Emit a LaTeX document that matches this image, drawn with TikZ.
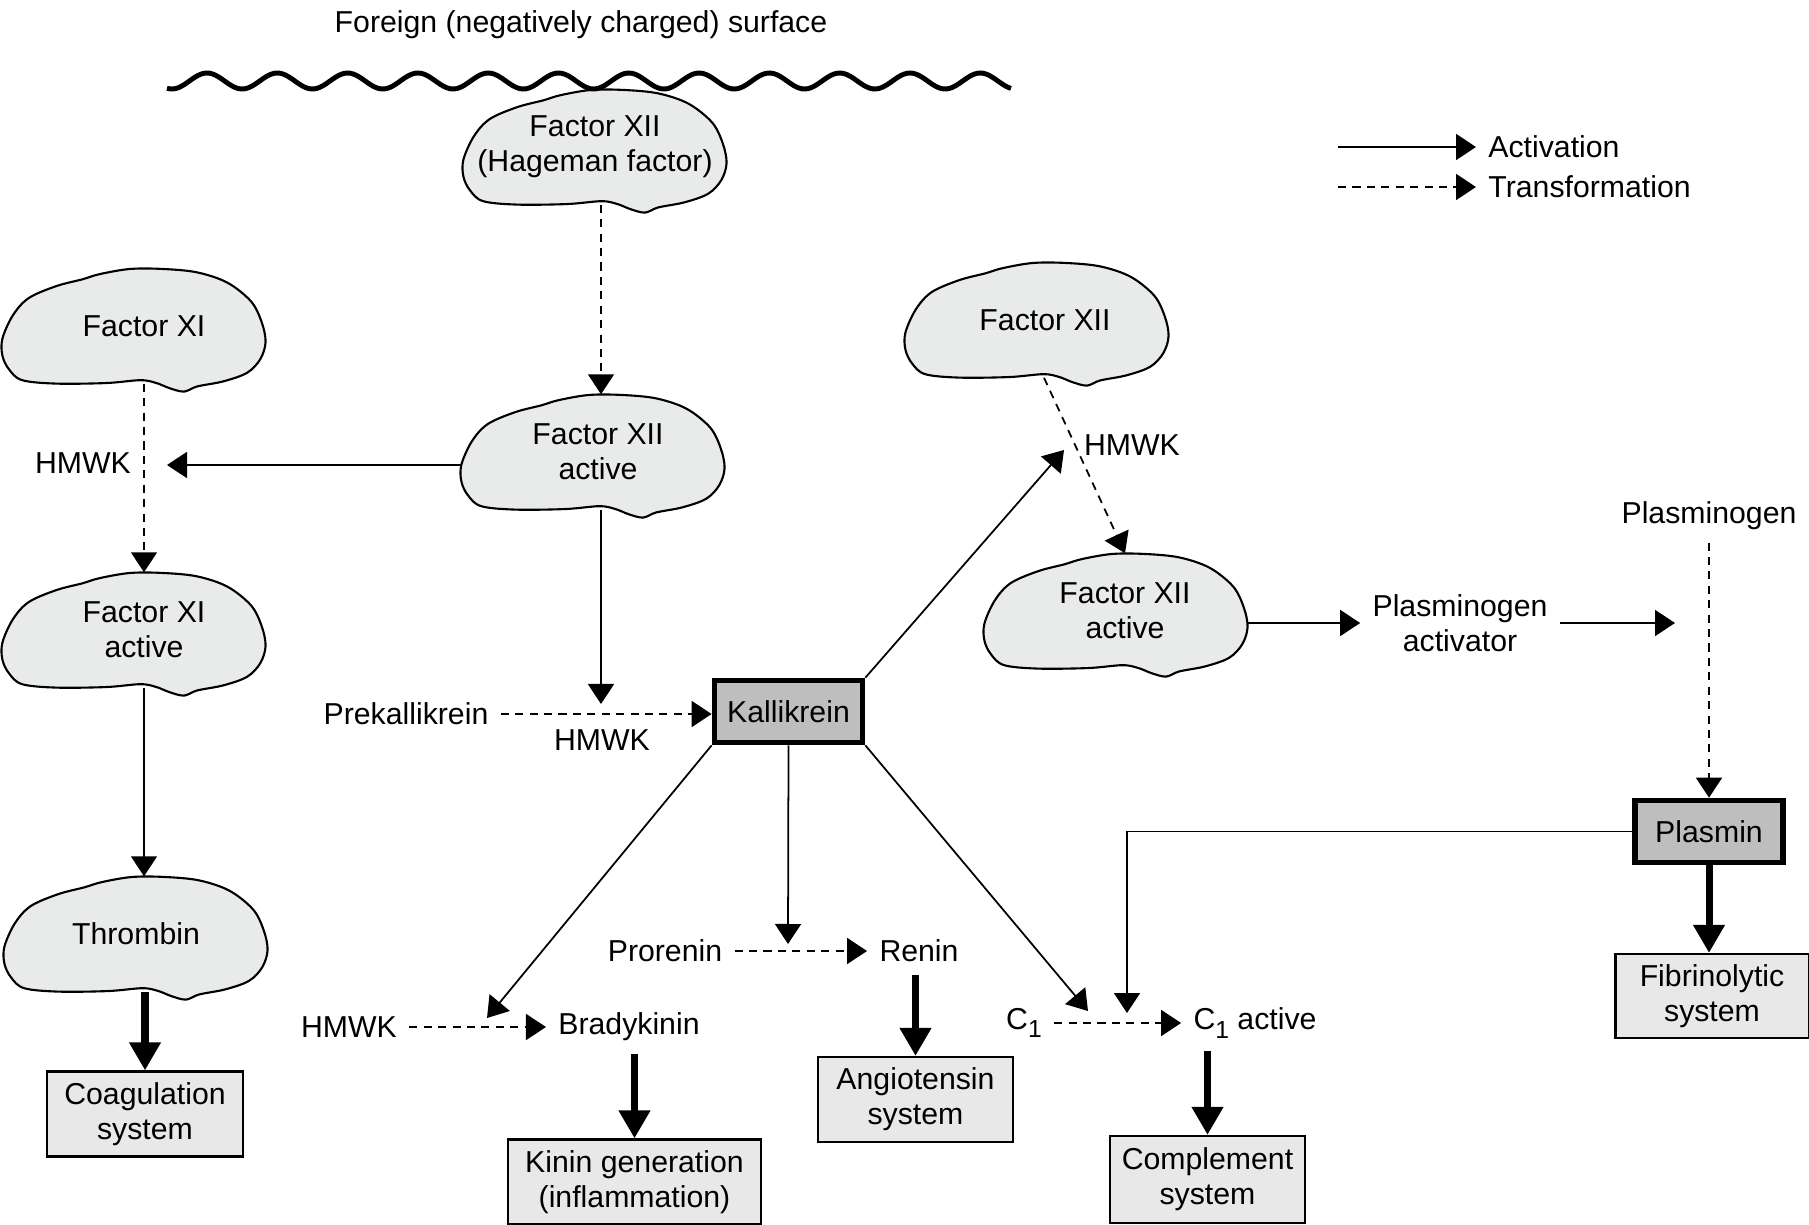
\documentclass[tikz,border=0pt]{standalone}
\usepackage{fontspec}
\setmainfont{Liberation Sans}
\usetikzlibrary{arrows.meta}

\definecolor{cloudgray}{HTML}{E9EAEA}
\definecolor{boxgray}{HTML}{E8E8E8}
\definecolor{enzgray}{HTML}{BEBEBE}

\newcommand{\lowsub}[1]{\raisebox{-0.55ex}{\fontsize{7}{8}\selectfont #1}}
\newcommand{\blob}[4][0cm]{%
  \filldraw[fill=cloudgray, line width=0.6pt, shift={#3}, x=1.315cm, y=0.57cm]
    plot[smooth cycle, tension=0.55] coordinates {(-1.0,-0.22) (-0.92,0.19) (-0.80,0.49)
      (-0.59,0.70) (-0.39,0.82) (-0.26,0.91) (-0.03,1.0) (0.22,1.0) (0.48,0.94)
      (0.71,0.76) (0.89,0.43) (0.97,0.07) (1.0,-0.28) (0.96,-0.58) (0.86,-0.82)
      (0.68,-0.97) (0.48,-1.06) (0.38,-1.15) (0.27,-1.09) (0.17,-1.0) (0.05,-0.95)
      (-0.21,-1.0) (-0.59,-1.01) (-0.85,-0.95) (-0.95,-0.76) (-1.0,-0.52)};
  \node[blobtext, xshift=#1] (#2) at #3 {#4};}

\tikzset{
  blobtext/.style={align=center, inner sep=0pt, minimum width=2.63cm, minimum height=1.14cm},
  sysbox/.style={draw, line width=0.6pt, fill=boxgray, align=center, inner sep=0pt,
    minimum width=1.95cm, minimum height=0.85cm},
  enzbox/.style={draw, line width=1.6pt, fill=enzgray, inner sep=0pt,
    minimum width=1.48cm, minimum height=0.62cm},
  act/.style={->, line width=0.5pt},
  trans/.style={act, dash pattern=on 2.3pt off 1.8pt},
  feed/.style={-{Triangle[length=0.28cm,width=0.3cm]}, line width=2pt},
}

\begin{document}
\begin{tikzpicture}[x=0.01cm, y=-0.01cm, font=\fontsize{8.6}{9.9}\selectfont,
    >={Triangle[length=0.2cm,width=0.26cm]}]
    \useasboundingbox (0,0) rectangle (1809,1224);

    \node (title) at (581,25) {Foreign (negatively charged) surface};

    \blob{hage}{(595,147)}{Factor XII\\(Hageman factor)}
    \blob[0.1cm]{fxi}{(134,326)}{Factor XI}
    \blob[0.1cm]{fxia}{(134,630)}{Factor XI\\active}
    \blob{thr}{(136,934)}{Thrombin}
    \blob[0.05cm]{fxiia}{(593,452)}{Factor XII\\active}
    \blob[0.08cm]{fxiir}{(1037,320)}{Factor XII}
    \blob[0.09cm]{fxiiar}{(1116,611)}{Factor XII\\active}

    \node (hmwka) at (83,463) {HMWK};
    \node (prek) at (406,714) {Prekallikrein};
    \node (hmwkb) at (602,740) {HMWK};
    \node (hmwkr) at (1132,445) {HMWK};
    \node[align=center] (plact) at (1460,623) {Plasminogen\\activator};
    \node (plg) at (1709,516) {Plasminogen};
    \node (pro) at (665,951) {Prorenin};
    \node (ren) at (919,951) {Renin};
    \node (hmwkc) at (349,1027) {HMWK};
    \node (brad) at (629,1027) {Bradykinin};
    \node (cone) at (1024,1023) {C\lowsub{1}};
    \node (conea) at (1255,1023) {C\lowsub{1} active};

    \node[enzbox] (kal) at (788.5,711.5) {Kallikrein};
    \node[enzbox] (plas) at (1709,831.5) {Plasmin};

    \node[sysbox] (coag) at (145,1114) {Coagulation\\system};
    \node[sysbox, minimum width=2.53cm] (kin) at (634.5,1182) {Kinin generation\\(inflammation)};
    \node[sysbox] (ang) at (915.5,1099.5) {Angiotensin\\system};
    \node[sysbox, minimum height=0.87cm] (comp) at (1207.5,1179.5) {Complement\\system};
    \node[sysbox, minimum width=1.93cm, minimum height=0.84cm] (fib) at (1712,996) {Fibrinolytic\\system};

    \coordinate (hmwktip) at (167,465);
    \coordinate (kaltip) at (601,704);
    \coordinate (fxiitip) at (1064,450);
    \coordinate (bradtip) at (487,1018);
    \coordinate (rentip) at (788,944);
    \coordinate (cotip) at (1088,1011);
    \coordinate (plastip) at (1127,1013);
    \coordinate (plgtip) at (1675,623);
    \coordinate (legA) at (1338,147);
    \coordinate (legB) at (1338,187);

    \node[anchor=west] (actkey) at (1476,147) {Activation};
    \node[anchor=west] (transkey) at (1476,187) {Transformation};
    \draw[act] (legA) -- (actkey.west);
    \draw[trans] (legB) -- (transkey.west);

    \draw[trans] ([xshift=0.06cm]hage.south) -- ([xshift=0.06cm]hage.south |- fxiia.north);
    \draw[act] ([xshift=-0.05cm]fxiia.west |- hmwktip) -- (hmwktip);
    \draw[trans] (fxi.south) -- (fxi.south |- fxia.north);
    \draw[act] (fxia.south) -- (fxia.south |- thr.north);
    \draw[feed] (coag.north |- thr.south) -- (coag.north);

    \draw[act] (kaltip |- fxiia.south) -- (kaltip);
    \draw[trans] (prek.east) -- (prek.east -| kal.west);

    \draw[act] (kal.north east) -- (fxiitip);
    \draw[act] (kal.south west) -- (bradtip);
    \draw[act] (kal.south) -- (rentip);
    \draw[act] (kal.south east) -- (cotip);

    \draw[trans] ([xshift=-0.01cm]fxiir.south) -- (fxiiar.north);
    \draw[act] ([xshift=-0.09cm]fxiiar.east |- plact.west) -- (plact.west);
    \draw[act] (plact.east) -- (plgtip);
    \draw[trans] (plg.south) -- (plas.north);
    \draw[act] (plas.west) -| (plastip);
    \draw[feed] (plas.south) -- (plas.south |- fib.north);

    \draw[trans] (pro.east) -- (ren.west);
    \draw[feed] (ang.north |- ren.south) -- (ang.north);
    \draw[trans] (hmwkc.east) -- (brad.west);
    \draw[feed] (kin.north |- brad.south) -- (kin.north);
    \draw[trans] (cone.east) -- (conea.west);
    \draw[feed] (comp.north |- conea.south) -- (comp.north);

    \draw[line width=1.4pt] plot[domain=167:1011, samples=300, smooth]
        (\x, {81 - 8*cos(5.1209*(\x-207))});
\end{tikzpicture}
\end{document}
